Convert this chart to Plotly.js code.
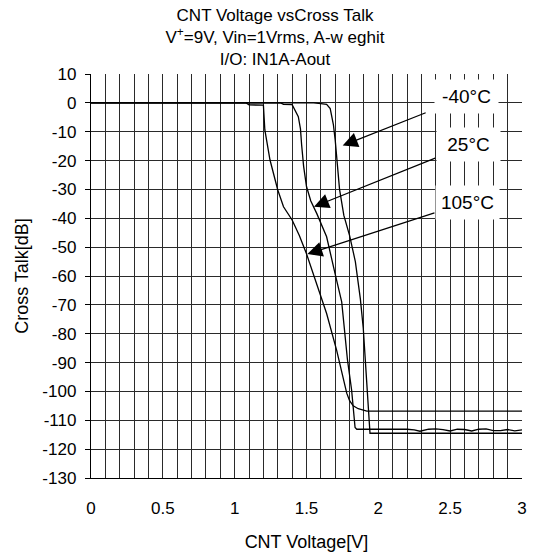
<!DOCTYPE html>
<html>
<head>
<meta charset="utf-8">
<script src="https://cdn.plot.ly/plotly-3.0.1.min.js"></script>
<style>
  html, body { margin: 0; padding: 0; background: #fff; }
  #chart { width: 535px; height: 556px; }
</style>
</head>
<body>
<div id="chart"></div>
<script>
// Series: CNT Voltage [V] vs Cross Talk [dB]
const x105 = [0, 1.08, 1.10, 1.20, 1.21, 1.246, 1.30, 1.34, 1.40, 1.45, 1.50, 1.57, 1.64, 1.71, 1.745, 1.78, 1.80, 1.825, 1.86, 1.92, 3.0];
const y105 = [0, 0, -0.7, -0.8, -9.4, -19.8, -30.2, -36, -40.6, -46, -52.3, -62.5, -73, -85.8, -93.7, -100.6, -103.2, -105, -106, -106.8, -106.8];

const x25 = [0, 1.32, 1.34, 1.40, 1.443, 1.458, 1.466, 1.48, 1.50, 1.53, 1.571, 1.60, 1.64, 1.698, 1.738, 1.745, 1.785, 1.814, 1.838, 1.85, 1.95,
             2.00, 2.05, 2.10, 2.15, 2.20, 2.25, 2.29, 2.35, 2.40, 2.45, 2.50, 2.55, 2.60, 2.65, 2.70, 2.75, 2.80, 2.85, 2.90, 2.95, 3.0];
const y25 = [0, 0, -0.5, -0.6, -4.8, -9, -14.5, -22, -29, -34, -38.3, -42, -46.4, -59, -68.3, -69, -89, -99.5, -112.5, -113.1, -113.1,
             -113.1, -113.1, -113.0, -113.2, -113.1, -113.3, -113.8, -113.1, -113.0, -113.2, -113.7, -113.1, -113.2, -113.7, -113.1, -113.0, -113.6, -113.6, -113.2, -113.7, -113.3];

const xm40 = [0, 1.55, 1.60, 1.64, 1.665, 1.687, 1.70, 1.715, 1.73, 1.76, 1.80, 1.84, 1.855, 1.875, 1.895, 1.91, 1.93, 1.942, 3.0];
const ym40 = [0, 0, -0.3, -0.5, -2, -7.5, -13, -22, -30, -39, -46, -55, -60, -68, -78, -89, -106, -114.5, -114.5];

// Labels (box centres) and the points their arrows aim at, in data units
const seriesLabels = ['-40°C', '25°C', '105°C'];
const labelX = [2.617, 2.625, 2.62];
const labelY = [2.2, -14.6, -34.4];
const arrowTipX = [1.752, 1.552, 1.506];
const arrowTipY = [-14.8, -36.0, -52.4];

// Tick labels
const yTickVals = [10, 0, -10, -20, -30, -40, -50, -60, -70, -80, -90, -100, -110, -120, -130];
const yTickText = ['10', '0', '-10', '-20', '-30', '-40', '-50', '-60', '-70', '-80', '-90', '-100', '-110', '-120', '-130'];
const xTickVals = [0, 0.5, 1, 1.5, 2, 2.5, 3];
const xTickText = ['0', '0.5', '1', '1.5', '2', '2.5', '3'];

const FONT = 'Arial, "Liberation Sans", sans-serif';
const lineStyle = {color: '#000', width: 1.3};

const traces = [
  {x: x105, y: y105, mode: 'lines', line: lineStyle, name: '105°C', hoverinfo: 'skip'},
  {x: x25, y: y25, mode: 'lines', line: lineStyle, name: '25°C', hoverinfo: 'skip'},
  {x: xm40, y: ym40, mode: 'lines', line: lineStyle, name: '-40°C', hoverinfo: 'skip'}
];

const annotations = [];
for (let i = 0; i < seriesLabels.length; i++) {
  annotations.push({
    x: arrowTipX[i], y: arrowTipY[i], xref: 'x', yref: 'y',
    ax: labelX[i], ay: labelY[i], axref: 'x', ayref: 'y',
    text: seriesLabels[i], showarrow: true, arrowhead: 2, arrowsize: 2.5, arrowwidth: 1.2,
    arrowcolor: '#000', standoff: 0, startstandoff: i === 0 ? 10 : 1,
    font: {family: FONT, size: 19, color: '#000'},
    bgcolor: '#fff', width: 61, height: 31, xanchor: 'center', yanchor: 'middle'
  });
}

const gridColor = '#2a2a2a';

const layout = {
  width: 535, height: 556,
  margin: {l: 91, r: 13, t: 74, b: 78, pad: 0},
  paper_bgcolor: '#fff', plot_bgcolor: '#fff',
  showlegend: false,
  font: {family: FONT, color: '#000', size: 16},
  title: {
    text: 'CNT Voltage vsCross Talk<br>V<sup>+</sup>=9V, Vin=1Vrms, A-w eghit<br>I/O: IN1A-Aout',
    font: {family: FONT, size: 17, color: '#000'},
    x: 275 / 535, xref: 'container', xanchor: 'center',
    y: 1 - 21 / 556, yref: 'container', yanchor: 'top'
  },
  xaxis: {
    range: [0, 3], tickmode: 'array', tickvals: xTickVals, ticktext: xTickText,
    ticks: '', showgrid: true, gridcolor: gridColor, gridwidth: 1,
    minor: {tickmode: 'linear', tick0: 0, dtick: 0.1, showgrid: true, gridcolor: gridColor, gridwidth: 1, ticks: ''},
    showline: true, linecolor: '#000', linewidth: 1.2, mirror: false, zeroline: false,
    tickfont: {family: FONT, size: 17, color: '#000'},
    ticklabelstandoff: 14,
    title: {text: 'CNT Voltage[V]', font: {family: FONT, size: 18, color: '#000'}, standoff: 18},
    fixedrange: true
  },
  yaxis: {
    range: [-130, 10], tickmode: 'array', tickvals: yTickVals, ticktext: yTickText,
    ticks: 'outside', ticklen: 5, tickwidth: 1, tickcolor: '#000',
    showgrid: true, gridcolor: gridColor, gridwidth: 1,
    showline: true, linecolor: '#000', linewidth: 1.2, mirror: false, zeroline: false,
    tickfont: {family: FONT, size: 17, color: '#000'},
    ticklabelstandoff: 5,
    title: {text: 'Cross Talk[dB]', font: {family: FONT, size: 18, color: '#000'}, standoff: 9},
    fixedrange: true
  },
  annotations: annotations
};

Plotly.newPlot('chart', traces, layout, {displayModeBar: false, staticPlot: true});
</script>
</body>
</html>
